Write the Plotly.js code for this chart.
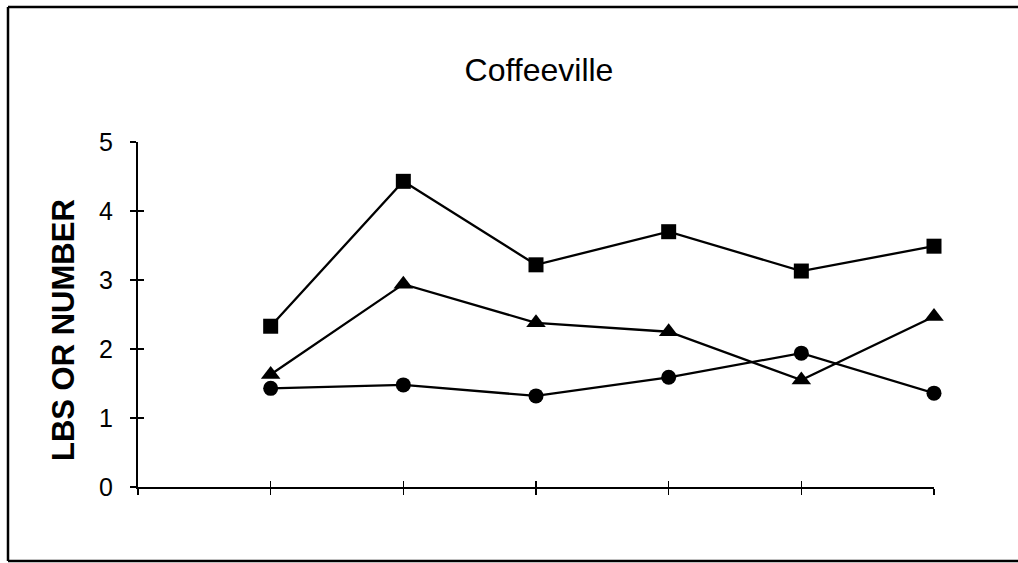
<!DOCTYPE html>
<html>
<head>
<meta charset="utf-8">
<script src="https://cdn.plot.ly/plotly-3.0.1.min.js"></script>
<style>html,body{margin:0;padding:0;background:#fff;}#chart{width:1018px;height:563px;}</style>
</head>
<body>
<div id="chart"></div>
<script>
// Data
const periods = [1, 2, 3, 4, 5, 6];
const squareSeries = [2.33, 4.43, 3.22, 3.70, 3.13, 3.49];
const triangleSeries = [1.63, 2.94, 2.38, 2.25, 1.55, 2.47];
const circleSeries = [1.43, 1.48, 1.32, 1.59, 1.94, 1.36];
const yTickVals = [0, 1, 2, 3, 4, 5];
const xTickVals = [0, 1, 2, 3, 4, 5, 6];

const FONT = '"Liberation Sans", Arial, sans-serif';

function series(y, symbol, size) {
  return {
    x: periods, y: y, type: 'scatter', mode: 'lines+markers',
    line: {color: '#000', width: 2.3},
    marker: {symbol: symbol, size: size, color: '#000'},
    cliponaxis: false, showlegend: false, hoverinfo: 'skip'
  };
}

const data = [
  series(squareSeries, 'square', 15),
  series(triangleSeries, 'triangle-up', 17),
  series(circleSeries, 'circle', 15)
];

const axisCommon = {
  showgrid: false, zeroline: false, showline: true,
  linecolor: '#000', linewidth: 2, tickcolor: '#000', tickwidth: 1.5, ticklen: 6
};

function px2x(px) { return (px - 138) / 796; }
function px2y(py) { return (487 - py) / 345; }

const layout = {
  width: 1018, height: 563,
  margin: {l: 138, r: 84, t: 142, b: 76},
  paper_bgcolor: '#fff', plot_bgcolor: '#fff',
  font: {family: FONT, color: '#000'},
  title: {
    text: 'Coffeeville',
    font: {family: FONT, size: 32, color: '#000'},
    x: 539 / 1018, xanchor: 'center', xref: 'container',
    y: 1 - 70 / 563, yanchor: 'middle', yref: 'container'
  },
  xaxis: Object.assign({}, axisCommon, {
    range: [0, 6], tickmode: 'array', tickvals: xTickVals,
    ticks: 'outside', showticklabels: false, fixedrange: true
  }),
  xaxis2: Object.assign({}, axisCommon, {
    range: [0, 6], tickmode: 'array', tickvals: xTickVals,
    ticks: 'inside', showticklabels: false, overlaying: 'x', anchor: 'y', side: 'bottom', showline: false
  }),
  yaxis: Object.assign({}, axisCommon, {
    range: [0, 5], tickmode: 'array', tickvals: yTickVals,
    ticks: 'outside', ticklabelstandoff: 12,
    tickfont: {family: FONT, size: 25, color: '#000'}
  }),
  yaxis2: Object.assign({}, axisCommon, {
    range: [0, 5], tickmode: 'array', tickvals: yTickVals,
    ticks: 'inside', showticklabels: false, overlaying: 'y', anchor: 'x', side: 'left', showline: false
  }),
  annotations: [{
    text: 'LBS OR NUMBER', textangle: -90, showarrow: false,
    xref: 'paper', yref: 'paper',
    x: px2x(63), y: px2y(330),
    xanchor: 'center', yanchor: 'middle',
    font: {family: FONT, size: 31, color: '#000', weight: 'bold'}
  }],
  shapes: [
    {type: 'line', xref: 'paper', yref: 'paper', x0: px2x(8), x1: px2x(1018), y0: px2y(7), y1: px2y(7), line: {color: '#000', width: 2.5}},
    {type: 'line', xref: 'paper', yref: 'paper', x0: px2x(8), x1: px2x(1018), y0: px2y(561), y1: px2y(561), line: {color: '#000', width: 2.5}},
    {type: 'line', xref: 'paper', yref: 'paper', x0: px2x(8), x1: px2x(8), y0: px2y(7), y1: px2y(561), line: {color: '#000', width: 2.5}}
  ]
};

// helper traces to show the overlay axes (crossing tick marks)
data.push({x: [null], y: [null], xaxis: 'x2', yaxis: 'y', showlegend: false, hoverinfo: 'skip'});
data.push({x: [null], y: [null], xaxis: 'x', yaxis: 'y2', showlegend: false, hoverinfo: 'skip'});

Plotly.newPlot('chart', data, layout, {displayModeBar: false, staticPlot: true});
</script>
</body>
</html>
